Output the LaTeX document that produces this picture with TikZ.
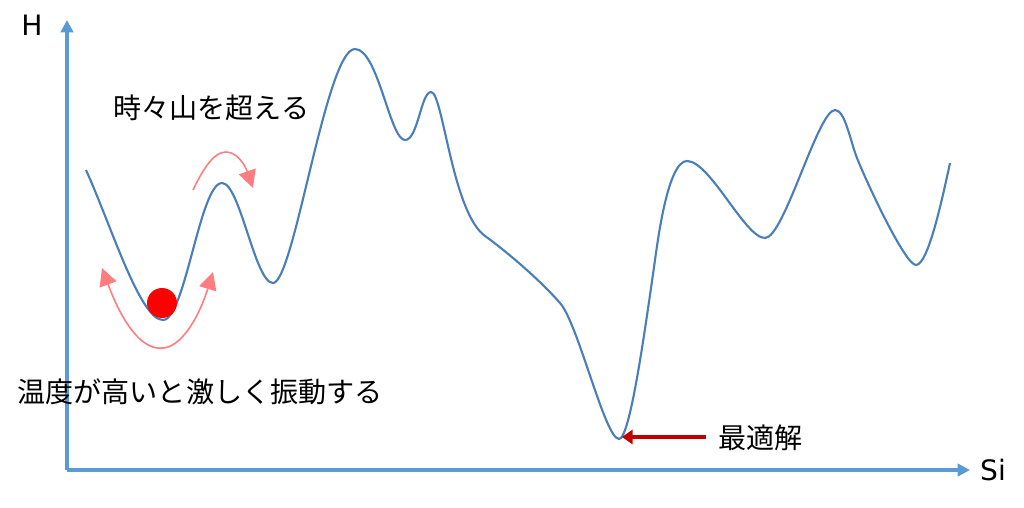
\documentclass[tikz,border=0pt]{standalone}
\usepackage{fontspec}
\setmainfont{DejaVu Sans}
\newfontfamily\jpfont{Noto Sans CJK JP}
\usetikzlibrary{arrows.meta}
\definecolor{curveblue}{HTML}{4A7EBB}
\definecolor{axisblue}{HTML}{5B9BD5}
\definecolor{salmon}{HTML}{FF7C80}
\definecolor{darkred}{HTML}{C00000}
\begin{document}
\begin{tikzpicture}[x=0.02cm,y=-0.02cm,
  axis/.style={draw=axisblue,line width=1.9pt,-{Triangle[length=7pt,width=7pt]}},
  landscape/.style={draw=curveblue,line width=1.2pt},
  jump/.style={draw=salmon,line width=0.9pt},
  jptext/.style={font=\jpfont\fontsize{16}{18}\selectfont,inner sep=0pt},
  axtext/.style={font=\fontsize{16}{18}\selectfont,inner sep=0pt}]
\useasboundingbox (0,0) rectangle (1024,507);
\coordinate (origin) at (67,470);
\coordinate (ytop) at (67,20);
\coordinate (xend) at (970,470);
\draw[axis] (origin) -- (ytop);
\draw[axis] (origin) -- (xend);
\node[axtext] (H) at (32,25) {H};
\node[axtext] (Si) at (993,470) {Si};
\draw[landscape] (86,170)
  .. controls (111,225) and (140,320) .. (163,320)
  .. controls (185,320) and (200,183) .. (222,183)
  .. controls (240,183) and (255,283) .. (273,283)
  .. controls (294,283) and (326,49) .. (355,49)
  .. controls (378,49) and (390,140) .. (405,140)
  .. controls (418,140) and (421,92) .. (431,92)
  .. controls (443,92) and (452,212) .. (485,236)
  .. controls (506,251) and (540,280) .. (560,303)
  .. controls (578,323) and (605,439) .. (619,439)
  .. controls (630,439) and (645,330) .. (655,260)
  .. controls (658,239) and (668,161) .. (687,161)
  .. controls (710,161) and (745,238) .. (765,238)
  .. controls (784,238) and (818,110) .. (835,110)
  .. controls (845,110) and (850,140) .. (857,158)
  .. controls (866,181) and (905,265) .. (916,265)
  .. controls (928,265) and (942,200) .. (950,163);
\fill[red] (162,303) circle[radius=15];
\coordinate (uL) at (102,268);
\coordinate (uR) at (213,272);
\draw[jump,{Triangle[length=10pt,width=10pt]}-{Triangle[length=10pt,width=10pt]}] (uL) .. controls (125,330) and (145,350) .. (162,348) .. controls (180,348) and (198,320) .. (uR);
\coordinate (oS) at (193,190);
\coordinate (oE) at (253,188);
\draw[jump,-{Triangle[length=10pt,width=10pt]}] (oS) .. controls (205,165) and (215,152) .. (226,152) .. controls (237,152) and (245,165) .. (oE);
\node[jptext,anchor=west] (t1) at (113,108) {時々山を超える};
\node[jptext,anchor=west] (t2) at (17,392) {温度が高いと激しく振動する};
\node[jptext,anchor=west] (t3) at (718,438) {最適解};
\coordinate (opt) at (622,437);
\draw[draw=darkred,line width=2.2pt,-{Triangle[length=6pt,width=8pt]}] (706,437) -- (opt);
\end{tikzpicture}
\end{document}
